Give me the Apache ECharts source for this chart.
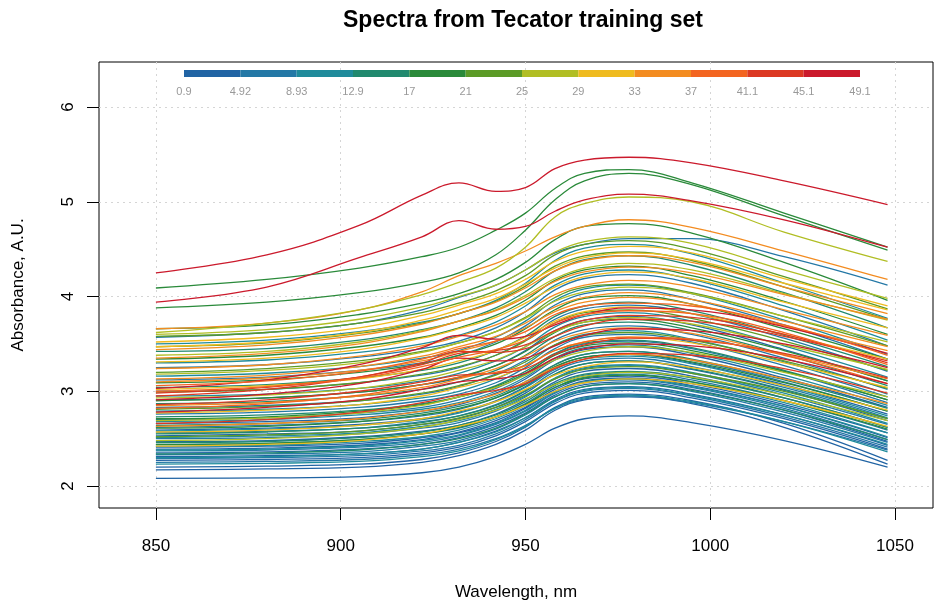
<!DOCTYPE html>
<html><head><meta charset="utf-8">
<script src="https://cdn.jsdelivr.net/npm/echarts@6/dist/echarts.min.js"></script>
<style>html,body{margin:0;padding:0;background:#fff}#c{width:934px;height:606px}</style>
</head><body><div id="c"></div>
<script>
const wavelengths = [850, 880, 905, 922, 932, 942, 950, 958, 966, 978, 995, 1020, 1048];

const fat = [
  1.9,3.1,4.2,6.1,2.4,5.3,1.2,7.4,3.6,8.2,4.7,2.9,6.8,1.7,5.7,3.3,7.9,2.2,6.3,4.4,8.6,5.1,7.0,3.9,8.0,6.6,5.5,7.6,
  10.1,12.2,14.1,9.5,11.3,15.8,10.7,13.4,9.9,16.2,12.0,14.6,10.4,13.0,11.6,15.1,9.3,12.7,16.6,11.0,
  18.4,22.6,19.2,20.3,23.8,17.6,21.5,19.8,24.1,18.0,22.0,20.6,19.5,18.6,23.3,
  30.1,27.0,31.7,34.2,26.3,32.4,35.6,28.4,30.8,36.4,25.7,33.8,31.2,28.9,35.0,32.9,27.6,36.8,26.8,34.7,29.6,33.1,
  48.5,46.5,47.8,44.1,46.0,42.2,40.3,43.4,38.8,45.2,41.4,39.5
];

const spectra = [
  [2.08,2.085,2.10,2.14,2.20,2.31,2.44,2.61,2.71,2.74,2.67,2.48,2.20],
  [2.17,2.18,2.20,2.25,2.32,2.44,2.59,2.80,2.91,2.94,2.87,2.62,2.23],
  [2.20,2.21,2.23,2.28,2.35,2.47,2.62,2.83,2.94,2.97,2.90,2.66,2.27],
  [2.25,2.26,2.28,2.33,2.39,2.50,2.64,2.82,2.92,2.95,2.88,2.68,2.38],
  [2.27,2.28,2.30,2.35,2.41,2.53,2.68,2.87,2.98,3.01,2.93,2.71,2.39],
  [2.29,2.30,2.32,2.37,2.43,2.55,2.70,2.89,3.00,3.03,2.95,2.73,2.41],
  [2.31,2.32,2.34,2.39,2.46,2.58,2.72,2.91,3.02,3.05,2.97,2.75,2.43],
  [2.33,2.34,2.36,2.42,2.48,2.60,2.75,2.94,3.05,3.08,3.00,2.78,2.46],
  [2.35,2.36,2.39,2.44,2.51,2.63,2.77,2.96,3.07,3.10,3.02,2.80,2.47],
  [2.37,2.38,2.41,2.46,2.53,2.65,2.79,2.98,3.09,3.12,3.04,2.82,2.49],
  [2.39,2.40,2.43,2.49,2.56,2.67,2.82,3.00,3.11,3.14,3.06,2.84,2.51],
  [2.41,2.42,2.45,2.51,2.57,2.69,2.83,3.02,3.13,3.16,3.08,2.86,2.56],
  [2.44,2.45,2.49,2.55,2.61,2.73,2.87,3.06,3.17,3.20,3.12,2.90,2.59],
  [2.47,2.48,2.52,2.58,2.64,2.76,2.91,3.10,3.21,3.24,3.16,2.93,2.62],
  [2.50,2.51,2.55,2.61,2.67,2.79,2.94,3.13,3.24,3.27,3.19,2.96,2.65],
  [2.53,2.55,2.58,2.65,2.71,2.83,2.98,3.18,3.29,3.32,3.23,3.01,2.69],
  [2.56,2.58,2.61,2.68,2.74,2.86,3.01,3.21,3.32,3.35,3.26,3.04,2.72],
  [2.59,2.61,2.65,2.71,2.78,2.90,3.05,3.25,3.36,3.39,3.30,3.07,2.76],
  [2.62,2.64,2.68,2.74,2.81,2.93,3.08,3.28,3.39,3.42,3.33,3.10,2.79],
  [2.66,2.68,2.72,2.79,2.86,2.98,3.13,3.33,3.44,3.47,3.38,3.14,2.83],
  [2.70,2.72,2.77,2.83,2.91,3.03,3.18,3.39,3.50,3.53,3.45,3.21,2.88],
  [2.76,2.78,2.83,2.90,2.97,3.09,3.25,3.45,3.57,3.60,3.52,3.27,2.94],
  [2.83,2.85,2.90,2.97,3.05,3.18,3.33,3.54,3.65,3.69,3.60,3.35,3.02],
  [2.91,2.93,2.99,3.07,3.14,3.27,3.43,3.64,3.75,3.79,3.70,3.44,3.11],
  [3.00,3.02,3.09,3.17,3.25,3.38,3.54,3.76,3.87,3.91,3.82,3.56,3.21],
  [3.12,3.15,3.22,3.30,3.38,3.52,3.69,3.91,4.03,4.07,3.97,3.70,3.34],
  [3.25,3.28,3.36,3.45,3.53,3.67,3.84,4.07,4.19,4.23,4.14,3.85,3.48],
  [3.57,3.62,3.72,3.86,3.99,4.12,4.28,4.46,4.55,4.61,4.61,4.42,4.12],

  [2.23,2.24,2.26,2.31,2.37,2.49,2.63,2.82,2.93,2.96,2.89,2.68,2.36],
  [2.30,2.31,2.34,2.39,2.46,2.57,2.72,2.90,3.01,3.04,2.96,2.75,2.44],
  [2.34,2.35,2.38,2.44,2.50,2.61,2.76,2.94,3.05,3.08,3.01,2.80,2.49],
  [2.38,2.39,2.42,2.48,2.54,2.66,2.80,2.99,3.10,3.13,3.05,2.84,2.52],
  [2.42,2.43,2.47,2.52,2.59,2.71,2.85,3.04,3.15,3.18,3.10,2.88,2.56],
  [2.46,2.47,2.51,2.57,2.64,2.75,2.89,3.08,3.18,3.21,3.14,2.93,2.62],
  [2.51,2.53,2.56,2.63,2.69,2.81,2.95,3.14,3.25,3.28,3.20,2.98,2.66],
  [2.55,2.57,2.61,2.67,2.74,2.85,3.00,3.18,3.29,3.32,3.24,3.02,2.71],
  [2.58,2.60,2.64,2.70,2.77,2.89,3.04,3.23,3.34,3.37,3.29,3.06,2.74],
  [2.64,2.66,2.70,2.77,2.84,2.95,3.10,3.28,3.39,3.42,3.34,3.12,2.82],
  [2.68,2.70,2.75,2.81,2.88,3.00,3.15,3.35,3.46,3.49,3.40,3.17,2.85],
  [2.73,2.75,2.80,2.87,2.94,3.06,3.21,3.40,3.51,3.54,3.46,3.22,2.91],
  [2.79,2.81,2.86,2.93,3.00,3.13,3.28,3.49,3.60,3.64,3.55,3.31,2.97],
  [2.87,2.89,2.95,3.02,3.10,3.22,3.38,3.58,3.70,3.73,3.64,3.39,3.06],
  [2.95,2.97,3.03,3.11,3.19,3.32,3.47,3.68,3.79,3.83,3.74,3.48,3.15],
  [3.04,3.07,3.14,3.22,3.30,3.43,3.58,3.79,3.90,3.94,3.85,3.59,3.26],
  [3.16,3.19,3.26,3.35,3.43,3.57,3.74,3.96,4.08,4.12,4.03,3.75,3.39],
  [3.30,3.33,3.41,3.50,3.59,3.73,3.90,4.12,4.24,4.28,4.18,3.90,3.54],
  [3.42,3.45,3.54,3.65,3.74,3.88,4.05,4.27,4.39,4.43,4.33,4.04,3.67],
  [3.50,3.54,3.63,3.73,3.82,3.96,4.14,4.38,4.51,4.55,4.45,4.14,3.77],

  [2.44,2.45,2.49,2.55,2.62,2.73,2.86,3.04,3.14,3.17,3.10,2.90,2.60],
  [2.52,2.54,2.58,2.65,2.72,2.83,2.96,3.13,3.23,3.26,3.19,3.00,2.71],
  [2.61,2.63,2.68,2.75,2.82,2.93,3.07,3.26,3.36,3.39,3.31,3.09,2.79],
  [2.71,2.73,2.79,2.86,2.94,3.05,3.19,3.38,3.48,3.51,3.43,3.21,2.91],
  [2.81,2.84,2.90,2.98,3.06,3.17,3.31,3.49,3.59,3.62,3.54,3.32,3.03],
  [2.90,2.93,2.99,3.07,3.15,3.27,3.42,3.62,3.73,3.76,3.67,3.43,3.11],
  [2.99,3.02,3.09,3.18,3.26,3.38,3.53,3.72,3.83,3.86,3.77,3.53,3.22],
  [3.09,3.12,3.20,3.29,3.38,3.50,3.66,3.86,3.98,4.01,3.92,3.66,3.34],
  [3.20,3.24,3.32,3.42,3.51,3.63,3.78,3.99,4.10,4.13,4.04,3.79,3.48],
  [3.34,3.38,3.47,3.57,3.67,3.80,3.96,4.17,4.28,4.32,4.22,3.95,3.60],
  [3.47,3.51,3.61,3.72,3.82,3.95,4.11,4.32,4.43,4.47,4.38,4.10,3.76],
  [3.66,3.70,3.81,3.93,4.03,4.18,4.36,4.60,4.74,4.77,4.67,4.36,3.96],
  [4.09,4.18,4.30,4.42,4.52,4.70,4.88,5.14,5.30,5.34,5.20,4.88,4.52],
  [3.88,3.94,4.04,4.15,4.25,4.44,4.70,5.02,5.22,5.30,5.18,4.85,4.49],
  [3.58,3.62,3.72,3.83,3.93,4.06,4.22,4.44,4.55,4.59,4.50,4.21,3.87],

  [2.42,2.44,2.48,2.55,2.63,2.73,2.85,3.00,3.09,3.13,3.08,2.90,2.63],
  [2.48,2.50,2.55,2.62,2.70,2.80,2.92,3.07,3.16,3.20,3.15,2.96,2.69],
  [2.57,2.59,2.64,2.71,2.79,2.89,3.02,3.17,3.26,3.31,3.25,3.06,2.80],
  [2.63,2.66,2.71,2.79,2.87,2.97,3.10,3.25,3.34,3.39,3.33,3.13,2.87],
  [2.69,2.72,2.77,2.85,2.94,3.04,3.17,3.33,3.42,3.47,3.41,3.20,2.94],
  [2.77,2.80,2.86,2.95,3.04,3.14,3.27,3.43,3.52,3.57,3.51,3.30,3.04],
  [2.85,2.88,2.95,3.04,3.13,3.24,3.37,3.53,3.62,3.67,3.61,3.39,3.13],
  [2.93,2.96,3.03,3.13,3.22,3.33,3.47,3.63,3.73,3.78,3.71,3.49,3.23],
  [3.02,3.06,3.13,3.23,3.32,3.43,3.57,3.74,3.84,3.89,3.82,3.60,3.34],
  [3.10,3.14,3.22,3.32,3.42,3.53,3.67,3.84,3.94,3.99,3.92,3.69,3.43],
  [3.18,3.22,3.30,3.41,3.51,3.63,3.77,3.95,4.05,4.10,4.03,3.79,3.52],
  [3.24,3.28,3.37,3.48,3.58,3.70,3.84,4.02,4.12,4.17,4.10,3.86,3.59],
  [3.31,3.35,3.44,3.56,3.66,3.78,3.93,4.10,4.21,4.26,4.19,3.94,3.67],
  [3.38,3.42,3.52,3.64,3.74,3.86,4.01,4.19,4.30,4.35,4.28,4.03,3.75],
  [3.44,3.49,3.59,3.71,3.82,3.94,4.09,4.27,4.38,4.43,4.36,4.10,3.82],
  [3.52,3.57,3.67,3.80,3.91,4.03,4.18,4.37,4.48,4.53,4.46,4.19,3.90],
  [3.60,3.65,3.76,3.89,4.00,4.12,4.28,4.47,4.58,4.63,4.56,4.28,3.98],
  [3.66,3.72,3.86,4.05,4.22,4.35,4.48,4.63,4.74,4.81,4.73,4.48,4.18],
  [3.62,3.72,3.86,4.02,4.15,4.30,4.52,4.84,4.98,5.05,5.00,4.68,4.37],
  [3.35,3.40,3.50,3.63,3.74,3.85,3.99,4.16,4.26,4.31,4.25,4.02,3.76],
  [3.47,3.52,3.62,3.75,3.86,3.98,4.13,4.30,4.41,4.46,4.39,4.14,3.86],
  [3.13,3.17,3.26,3.37,3.47,3.58,3.72,3.89,3.99,4.04,3.97,3.74,3.47],

  [4.25,4.44,4.75,5.07,5.20,5.11,5.15,5.35,5.44,5.47,5.41,5.22,4.97],
  [3.94,4.10,4.41,4.63,4.80,4.71,4.74,4.90,5.02,5.08,5.01,4.81,4.52],
  [3.03,3.12,3.28,3.46,3.59,3.55,3.58,3.70,3.81,3.88,3.86,3.68,3.40],
  [2.95,3.02,3.15,3.30,3.42,3.41,3.45,3.58,3.69,3.76,3.74,3.58,3.32],
  [2.91,2.97,3.08,3.23,3.35,3.32,3.35,3.48,3.59,3.66,3.64,3.50,3.25],
  [2.86,2.91,3.00,3.10,3.17,3.19,3.24,3.39,3.49,3.56,3.54,3.40,3.14],
  [2.82,2.87,2.96,3.07,3.15,3.20,3.27,3.43,3.52,3.57,3.55,3.38,3.08],
  [2.98,3.04,3.15,3.28,3.40,3.43,3.49,3.64,3.75,3.80,3.78,3.60,3.30],
  [3.00,3.05,3.14,3.26,3.36,3.44,3.54,3.72,3.81,3.85,3.82,3.62,3.28],
  [2.78,2.83,2.91,3.02,3.10,3.13,3.19,3.35,3.45,3.50,3.48,3.34,3.08],
  [2.66,2.70,2.78,2.88,2.96,3.01,3.08,3.24,3.34,3.40,3.38,3.24,2.98],
  [3.06,3.11,3.21,3.34,3.45,3.53,3.63,3.81,3.90,3.93,3.90,3.70,3.38]
];

const xTicks = [850, 900, 950, 1000, 1050];
const yTicks = [2, 3, 4, 5, 6];
const colorbarLabels = ['0.9','4.92','8.93','12.9','17','21','25','29','33','37','41.1','45.1','49.1'];
const palette = ['#2164a4','#2478a6','#1f8b9b','#21896e','#2a8a3a','#5c9b27','#b1be24','#efbb1f','#f38c21','#f36521','#dc3923','#cb1a2c'];

const fatMin = 0.9, fatMax = 49.1;
function colorFor(f) {
  const i = Math.floor((f - fatMin) / (fatMax - fatMin) * palette.length);
  return palette[Math.max(0, Math.min(palette.length - 1, i))];
}

const FONT = '"Liberation Sans", Arial, Helvetica, sans-serif';

const series = spectra.map((s, i) => ({
  type: 'line', xAxisIndex: 0, yAxisIndex: 0,
  data: s.map((v, j) => [wavelengths[j], v]),
  showSymbol: false, symbol: 'none',
  smooth: 0.4,
  lineStyle: { width: 1.3, color: colorFor(fat[i]) },
  silent: true, animation: false
}));
palette.forEach((c) => series.push({
  type: 'bar', xAxisIndex: 1, yAxisIndex: 1, stack: 'cb',
  data: [1], barWidth: '100%', itemStyle: { color: c }, silent: true, animation: false
}));

const chart = echarts.init(document.getElementById('c'), null, { renderer: 'canvas' });
chart.setOption({
  backgroundColor: '#fff',
  animation: false,
  title: {
    text: 'Spectra from Tecator training set',
    left: 338, top: 4,
    textStyle: { fontSize: 23, fontWeight: 'bold', color: '#000', fontFamily: FONT }
  },
  grid: [
    { left: 99, top: 62, width: 834, height: 446, show: true, borderColor: '#000', borderWidth: 1, backgroundColor: 'transparent' },
    { left: 184, top: 70, width: 676, height: 7 }
  ],
  xAxis: [
    {
      type: 'value', gridIndex: 0, min: 834.6, max: 1060.3,
      axisLine: { show: false },
      axisTick: { show: true, length: 12, lineStyle: { color: '#000' }, customValues: xTicks },
      axisLabel: { customValues: xTicks, margin: 30, fontSize: 17, color: '#000', fontFamily: FONT, formatter: (v) => String(v) },
      splitLine: { show: true, lineStyle: { type: [2, 4], color: '#d5d5d5', width: 1 } },
      name: 'Wavelength, nm', nameLocation: 'middle', nameGap: 76,
      nameTextStyle: { fontSize: 17, color: '#000', fontFamily: FONT }
    },
    {
      type: 'value', gridIndex: 1, min: 0, max: palette.length, interval: 1,
      axisLine: { show: false }, axisTick: { show: false }, splitLine: { show: false },
      axisLabel: { formatter: (v) => colorbarLabels[Math.round(v)], color: '#999', fontSize: 11, margin: 9, fontFamily: FONT }
    }
  ],
  yAxis: [
    {
      type: 'value', gridIndex: 0, min: 1.768, max: 6.475,
      axisLine: { show: false },
      axisTick: { show: true, length: 12, lineStyle: { color: '#000' }, customValues: yTicks },
      axisLabel: { customValues: yTicks, rotate: 90, margin: 22, fontSize: 17, color: '#000', fontFamily: FONT, formatter: (v) => String(v) },
      splitLine: { show: true, lineStyle: { type: [2, 4], color: '#d5d5d5', width: 1 } },
      name: 'Absorbance, A.U.', nameLocation: 'middle', nameGap: 72, nameRotate: 90,
      nameTextStyle: { fontSize: 17, color: '#000', fontFamily: FONT }
    },
    { type: 'category', gridIndex: 1, data: ['fat'], show: false }
  ],
  series: series
});
</script>
</body></html>
